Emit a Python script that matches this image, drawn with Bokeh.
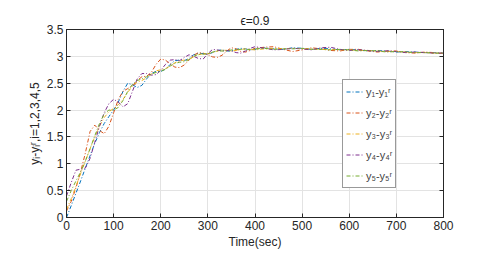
from bokeh.plotting import figure
from bokeh.models import LinearAxis, Legend, LegendItem, FixedTicker, Range1d
from bokeh.embed import file_html
from bokeh.resources import INLINE

t = list(range(0, 401, 10)) + list(range(420, 801, 20))

y1 = [0.00, 0.22, 0.45, 0.68, 0.92, 1.15, 1.38, 1.58, 1.75, 1.88, 2.0, 2.15, 2.35, 2.5, 2.47, 2.42, 2.46, 2.58, 2.68, 2.72, 2.72,
      2.76, 2.85, 2.92, 2.93, 2.92, 2.96, 3.03, 3.06, 3.05, 3.04, 3.07, 3.11, 3.12, 3.1, 3.1, 3.13, 3.15, 3.14, 3.12, 3.13,
      3.16, 3.14, 3.13, 3.16, 3.15, 3.13, 3.15, 3.14, 3.12, 3.13, 3.12, 3.1, 3.11, 3.1, 3.08, 3.09, 3.08, 3.07, 3.07, 3.06]
y2 = [0.12, 0.3, 0.55, 0.85, 1.2, 1.6, 1.72, 1.62, 1.56, 1.7, 1.95, 2.2, 2.35, 2.4, 2.45, 2.55, 2.62, 2.63, 2.7, 2.85, 2.95,
      2.93, 2.86, 2.8, 2.79, 2.84, 2.93, 3.02, 3.07, 3.06, 3.03, 2.99, 2.98, 3.02, 3.1, 3.16, 3.14, 3.09, 3.08, 3.11, 3.15,
      3.17, 3.18, 3.13, 3.09, 3.12, 3.16, 3.14, 3.11, 3.1, 3.13, 3.13, 3.1, 3.08, 3.1, 3.1, 3.07, 3.06, 3.08, 3.07, 3.05]
y3 = [0.15, 0.35, 0.58, 0.82, 1.05, 1.28, 1.5, 1.7, 1.86, 1.97, 2.03, 2.1, 2.2, 2.33, 2.45, 2.52, 2.55, 2.6, 2.67, 2.73, 2.75,
      2.77, 2.82, 2.88, 2.92, 2.93, 2.95, 2.99, 3.03, 3.05, 3.05, 3.07, 3.1, 3.12, 3.11, 3.1, 3.11, 3.13, 3.14, 3.13, 3.12,
      3.14, 3.15, 3.14, 3.15, 3.14, 3.14, 3.13, 3.13, 3.12, 3.12, 3.11, 3.11, 3.1, 3.09, 3.09, 3.08, 3.07, 3.07, 3.06, 3.06]
y4 = [0.4, 0.65, 0.88, 0.9, 0.92, 1.1, 1.4, 1.7, 1.95, 2.12, 2.2, 2.15, 2.06, 2.12, 2.35, 2.58, 2.68, 2.68, 2.65, 2.66, 2.74,
      2.85, 2.93, 2.94, 2.92, 2.98, 3.03, 3.0, 2.96, 2.95, 3.05, 3.13, 3.12, 3.1, 3.11, 3.1, 3.07, 3.06, 3.1, 3.15, 3.18,
      3.15, 3.12, 3.13, 3.15, 3.14, 3.12, 3.16, 3.17, 3.13, 3.11, 3.12, 3.11, 3.09, 3.1, 3.09, 3.07, 3.08, 3.07, 3.06, 3.06]
y5 = [0.3, 0.5, 0.68, 0.85, 1.05, 1.28, 1.52, 1.75, 1.93, 2.0, 2.0, 2.05, 2.18, 2.35, 2.48, 2.55, 2.58, 2.62, 2.67, 2.7, 2.72,
      2.76, 2.82, 2.87, 2.89, 2.9, 2.94, 3.0, 3.04, 3.04, 3.05, 3.08, 3.1, 3.1, 3.1, 3.12, 3.13, 3.13, 3.12, 3.13, 3.14,
      3.15, 3.13, 3.14, 3.14, 3.15, 3.13, 3.13, 3.12, 3.13, 3.12, 3.1, 3.11, 3.1, 3.08, 3.09, 3.08, 3.07, 3.07, 3.06, 3.06]

series = [y1, y2, y3, y4, y5]
labels = ["y\u2081-y\u2081\u02b3", "y\u2082-y\u2082\u02b3", "y\u2083-y\u2083\u02b3", "y\u2084-y\u2084\u02b3", "y\u2085-y\u2085\u02b3"]
colors = ["#0072BD", "#D95319", "#EDB120", "#7E2F8E", "#77AC30"]

x_ticks = [0, 100, 200, 300, 400, 500, 600, 700, 800]
y_ticks = [0, 0.5, 1, 1.5, 2, 2.5, 3, 3.5]

FONT = "Liberation Sans"

p = figure(width=478, height=257, output_backend="svg", toolbar_location=None,
           x_range=Range1d(0, 800), y_range=Range1d(0, 3.5),
           min_border_left=66, min_border_right=35, min_border_top=29, min_border_bottom=40,
           title="\u03f5=0.9")
p.title.align = "center"
p.title.text_font = FONT
p.title.text_font_size = "12px"
p.title.text_font_style = "normal"
p.title.text_color = "#222222"
p.title.standoff = 3
p.title.offset = 0

items = []
for ys, lab, c in zip(series, labels, colors):
    r = p.line(t, ys, line_color=c, line_width=1, line_dash="4 2 1 2")
    items.append(LegendItem(label=lab, renderers=[r]))

for ax in [p.xaxis[0], p.yaxis[0]]:
    ax.major_tick_in = 4
    ax.major_tick_out = 0
    ax.minor_tick_in = 0
    ax.minor_tick_out = 0
    ax.axis_line_color = "#262626"
    ax.major_tick_line_color = "#262626"
    ax.major_label_text_font = FONT
    ax.major_label_text_font_size = "12px"
    ax.major_label_text_color = "#262626"
    ax.axis_label_text_font = FONT
    ax.axis_label_text_font_size = "12px"
    ax.axis_label_text_font_style = "normal"
    ax.axis_label_text_color = "#262626"
    ax.major_label_standoff = 3
    ax.axis_label_standoff = 2

p.xaxis.ticker = FixedTicker(ticks=x_ticks)
p.yaxis.ticker = FixedTicker(ticks=y_ticks)
p.xaxis.axis_label = "Time(sec)"
p.yaxis.axis_label = "y\u1d62-y\u1d62\u02b3,i=1,2,3,4,5"

top = LinearAxis(ticker=FixedTicker(ticks=x_ticks),
                 major_label_overrides={v: "" for v in x_ticks},
                 major_tick_in=4, major_tick_out=0, minor_tick_in=0, minor_tick_out=0,
                 axis_line_color="#262626", major_tick_line_color="#262626", major_label_standoff=0)
right = LinearAxis(ticker=FixedTicker(ticks=y_ticks),
                   major_label_overrides={v: "" for v in y_ticks},
                   major_tick_in=4, major_tick_out=0, minor_tick_in=0, minor_tick_out=0,
                   axis_line_color="#262626", major_tick_line_color="#262626", major_label_standoff=0)
p.add_layout(top, "above")
p.add_layout(right, "right")

p.grid.grid_line_color = "#e3e3e3"
p.outline_line_color = "#262626"

legend = Legend(items=items, location=(276, 29), label_text_font=FONT, label_text_font_size="11px",
                glyph_width=18, glyph_height=17, label_height=17, spacing=4, padding=3, margin=0,
                border_line_color="#333333", border_line_width=1.5, label_standoff=2,
                background_fill_alpha=1)
p.add_layout(legend, "center")

open("out.html", "w").write(file_html(p, INLINE))
